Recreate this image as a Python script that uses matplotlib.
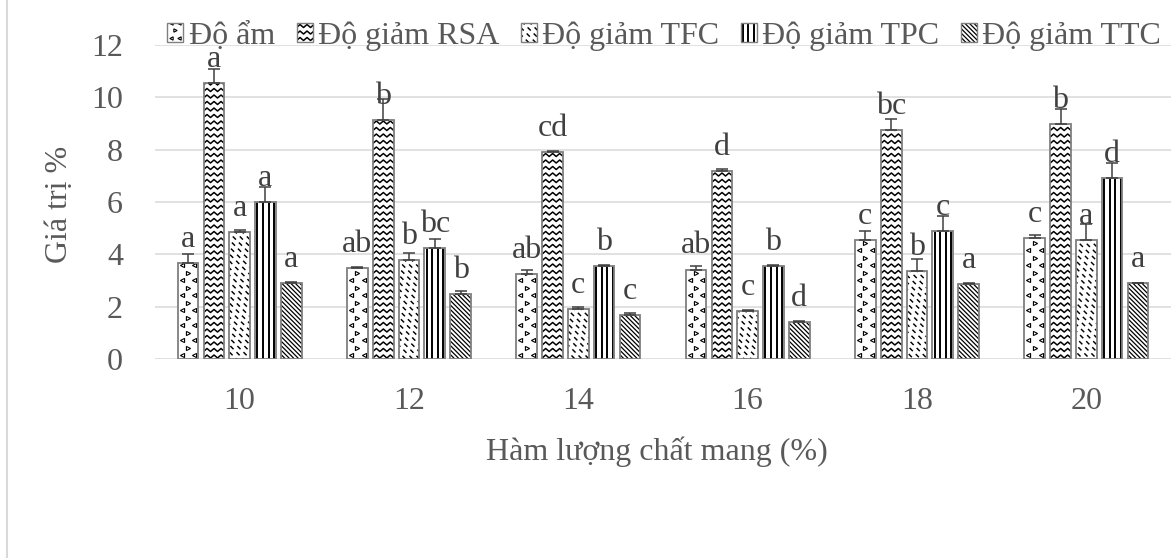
import numpy as np
import matplotlib
matplotlib.use("Agg")
import matplotlib.pyplot as plt
from matplotlib.patches import Rectangle
from matplotlib.lines import Line2D
from matplotlib.legend_handler import HandlerBase

plt.rcParams['font.family'] = ['Liberation Serif', 'DejaVu Serif']
plt.rcParams['lines.scale_dashes'] = False

# ---- data -------------------------------------------------------------
categories = ['10', '12', '14', '16', '18', '20']
series_names = ['Độ ẩm', 'Độ giảm RSA', 'Độ giảm TFC', 'Độ giảm TPC', 'Độ giảm TTC']

do_am = [3.67, 3.46, 3.26, 3.42, 4.56, 4.62]
do_am_err = [0.33, 0.07, 0.15, 0.14, 0.32, 0.13]
rsa = [10.54, 9.13, 7.90, 7.18, 8.75, 8.99]
rsa_err = [0.53, 0.80, 0.05, 0.10, 0.43, 0.57]
tfc = [4.84, 3.77, 1.92, 1.83, 3.37, 4.56]
tfc_err = [0.10, 0.30, 0.05, 0.05, 0.45, 0.60]
tpc = [5.99, 4.26, 3.56, 3.56, 4.89, 6.92]
tpc_err = [0.59, 0.32, 0.05, 0.03, 0.56, 0.57]
ttc = [2.92, 2.48, 1.69, 1.43, 2.87, 2.90]
ttc_err = [0.02, 0.12, 0.05, 0.04, 0.02, 0.02]

do_am_sig = ['a', 'ab', 'ab', 'ab', 'c', 'c']
rsa_sig = ['a', 'b', 'cd', 'd', 'bc', 'b']
tfc_sig = ['a', 'b', 'c', 'c', 'b', 'a']
tpc_sig = ['a', 'bc', 'b', 'b', 'c', 'd']
ttc_sig = ['a', 'b', 'c', 'd', 'a', 'a']

y_ticks = [0, 2, 4, 6, 8, 10, 12]
x_title = 'Hàm lượng chất mang (%)'
y_title = 'Giá trị %'

# ---- style ------------------------------------------------------------
FONT = 23
TEXT = '#595959'
LABEL = '#404040'
EDGE = '#7f7f7f'
GRID = '#d9d9d9'
PATTERNS = ['dots', 'zigzag', 'dash_diag', 'vlines', 'diag']

W_PX, H_PX = 1176, 558
AX_L, AX_R, AX_T, AX_B = 155, 1171, 45, 359


def pattern_segments(kind, w, h):
    """Line pieces (x, y, style) in pixel units for a w x h box, origin bottom-left."""
    out = []
    if kind == 'zigzag':
        period, amp, step = 7.0, 3.0, 6.5
        xs = np.arange(-period, w + period, period / 2)
        off = np.where(np.arange(len(xs)) % 2 == 0, 0.0, amp)
        y = 1.0
        while y < h + step:
            out.append((xs, y + off, dict(color='black', lw=1.1)))
            y += step
    elif kind == 'diag':
        sp = 4.5
        c = 0.0
        while c < w + h + sp:
            out.append(([c - h - 2, c + 2], [h + 2, -2], dict(color='black', lw=0.9)))
            c += sp
    elif kind == 'dash_diag':
        sp = 7.0
        c = 0.0
        while c < w + h + sp:
            out.append(([c - h - 2, c + 2], [h + 2, -2],
                        dict(color='black', lw=1.05, ls=(0, (3.2, 3.0)))))
            c += sp
    elif kind == 'vlines':
        for u in np.arange(2.2, w - 1, 5.6):
            out.append(([u, u], [-2, h + 2], dict(color='black', lw=1.4)))
    elif kind == 'dots':
        r = 0
        y = 4.0
        while y < h + 8:
            cols = [4.0, w - 4.0] if r % 2 == 0 else [w / 2]
            marker = '<' if r % 2 == 0 else '>'
            out.append((cols, [y] * len(cols),
                        dict(ls='none', marker=marker, ms=3.0, mfc='none',
                             mec='black', mew=0.8)))
            r += 1
            y += 7.5
    return out


class PatternKey:
    def __init__(self, kind):
        self.kind = kind


class PatternHandler(HandlerBase):
    def legend_artist(self, legend, orig_handle, fontsize, handlebox):
        x0, y0 = handlebox.xdescent, handlebox.ydescent
        w, h = handlebox.width, handlebox.height
        tr = handlebox.get_transform()
        bg = Rectangle((-x0, -y0), w, h, facecolor='white', edgecolor='none', transform=tr)
        handlebox.add_artist(bg)
        k = 0.72  # points per pixel at 100 dpi
        for xs, ys, st in pattern_segments(orig_handle.kind, w / k, h / k):
            st = dict(st)
            if 'ms' in st:
                st['ms'] = st['ms'] * 0.8
            ln = Line2D(np.asarray(xs) * k - x0, np.asarray(ys) * k - y0, transform=tr, **st)
            ln.set_clip_path(bg)
            handlebox.add_artist(ln)
        frame = Rectangle((-x0, -y0), w, h, facecolor='none', edgecolor=EDGE, lw=1.0, transform=tr)
        handlebox.add_artist(frame)
        return frame


fig = plt.figure(figsize=(W_PX / 100, H_PX / 100), dpi=100)
ax = fig.add_axes([AX_L / W_PX, (H_PX - AX_B) / H_PX,
                   (AX_R - AX_L) / W_PX, (AX_B - AX_T) / H_PX])

ax.set_xlim(-0.5, len(categories) - 0.5)
ax.set_ylim(0, 12)
dx = len(categories) / (AX_R - AX_L)   # data units per pixel, x
dy = 12.0 / (AX_B - AX_T)             # data units per pixel, y

values = [do_am, rsa, tfc, tpc, ttc]
errors = [do_am_err, rsa_err, tfc_err, tpc_err, ttc_err]
sigs = [do_am_sig, rsa_sig, tfc_sig, tpc_sig, ttc_sig]

x = np.arange(len(categories))
pitch = 0.1525
width = 0.122

for i, (vals, errs, sig, kind) in enumerate(zip(values, errors, sigs, PATTERNS)):
    pos = x + (i - 2) * pitch
    bg = ax.bar(pos, vals, width, color='white', edgecolor='none', zorder=2)
    for rect in bg:
        x0 = rect.get_x()
        wpx = rect.get_width() / dx
        hpx = rect.get_height() / dy
        for xs, ys, st in pattern_segments(kind, wpx, hpx):
            ln, = ax.plot(x0 + np.asarray(xs) * dx, np.asarray(ys) * dy, zorder=2.5, **st)
            ln.set_clip_path(rect)
    ax.bar(pos, vals, width, fill=False, edgecolor=EDGE, linewidth=1.3, zorder=3)
    ax.errorbar(pos, vals, yerr=[np.zeros(len(vals)), errs], fmt='none',
                ecolor=LABEL, elinewidth=1.1, capsize=4.3, capthick=1.1, zorder=4)
    for xp, v, s in zip(pos, vals, sig):
        ax.annotate(s, (xp, v), xytext=(0, 6.5), textcoords='offset points',
                    ha='center', va='bottom', fontsize=FONT, color=LABEL, zorder=5)

ax.set_xticks(x, categories)
ax.set_yticks(y_ticks)
ax.tick_params(axis='both', length=0, labelsize=FONT, labelcolor=TEXT)
ax.tick_params(axis='y', pad=23)
ax.tick_params(axis='x', pad=20)
for sp in ax.spines.values():
    sp.set_visible(False)
ax.set_axisbelow(True)
ax.grid(axis='y', color=GRID, linewidth=1.1)
ax.grid(axis='x', visible=False)

fig.text(60 / W_PX, 1 - 204 / H_PX, y_title, rotation=90, ha='center', va='center',
         fontsize=FONT, color=TEXT)
fig.text(657 / W_PX, 1 - 452 / H_PX, x_title, ha='center', va='center',
         fontsize=FONT, color=TEXT)

handles = [PatternKey(k) for k in PATTERNS]
fig.legend(handles, series_names, handler_map={PatternKey: PatternHandler()},
           loc='center', bbox_to_anchor=(664 / W_PX, 1 - 36 / H_PX), ncol=5,
           frameon=False, fontsize=FONT, labelcolor=TEXT, handlelength=0.5,
           handleheight=0.5, handletextpad=0.16, columnspacing=0.68, borderpad=0,
           borderaxespad=0)

# chart area border on the left
fig.add_artist(Line2D([7 / W_PX, 7 / W_PX], [0, 1], transform=fig.transFigure,
                      color=GRID, lw=1.5))

fig.savefig('out.png', dpi=100)
